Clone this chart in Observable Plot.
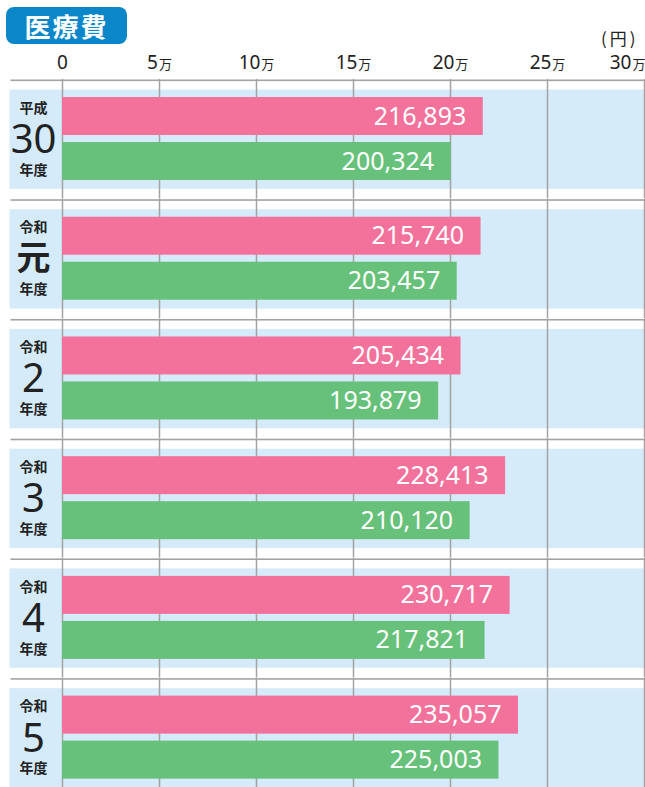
<!DOCTYPE html>
<html><head><meta charset="utf-8">
<script src="https://cdn.jsdelivr.net/npm/d3@7"></script>
<script src="https://cdn.jsdelivr.net/npm/@observablehq/plot@0.6"></script>
<style>
body{margin:0;background:#fff;font-family:"Noto Sans","Noto Sans CJK JP",sans-serif;}
#wrap{position:relative;width:645px;height:787px;overflow:hidden;}
#chart{position:absolute;left:0;top:0;}
#title{position:absolute;left:6px;top:7px;width:121px;height:37px;background:#0b87c9;border-radius:8px;color:#fff;font-family:"Noto Sans CJK JP",sans-serif;font-weight:700;font-size:26px;line-height:37px;text-align:center;letter-spacing:2px;}
#unit{position:absolute;left:601px;top:25px;font-family:"Noto Sans CJK JP",sans-serif;font-size:17px;letter-spacing:3px;color:#222;}
</style></head><body>
<div id="wrap"><div id="chart"></div><div id="title">医療費</div><div id="unit">(円)</div></div>
<script>
// ---- data ----
const eras = ["平成","令和","令和","令和","令和","令和"];
const yearNums = ["30","元","2","3","4","5"];
const pinkValues = [216893,215740,205434,228413,230717,235057];
const greenValues = [200324,203457,193879,210120,217821,225003];
const seriesNames = ["系列1","系列2"];
const xTicks = [0,50000,100000,150000,200000,250000,300000];
const xTickLabels = ["0","5万","10万","15万","20万","25万","30万"];

// ---- build tables ----
const years = eras.map((e,i)=>e+yearNums[i]);
const yearRows = years.map((y,i)=>({year:y, era:eras[i], num:yearNums[i], nen:"年度"}));
const rows = [];
years.forEach((y,i)=>{
  rows.push({year:y, series:seriesNames[0], value:pinkValues[i]});
  rows.push({year:y, series:seriesNames[1], value:greenValues[i]});
});
const labelMap = new Map(xTicks.map((t,i)=>[t,xTickLabels[i]]));
const innerTicks = xTicks.slice(0,-1);
const lastTick = xTicks.slice(-1);

const W=645,H=787,MT=89,MB=0,ML=62,MR=1;
const FY_PAD=0.17;
const bw = d3.scaleBand().domain(years).range([MT,H-MB]).paddingInner(FY_PAD).paddingOuter(0).bandwidth();
const GRAY="#a3a3a3";
const FONT='"Noto Sans","Noto Sans CJK JP",sans-serif';
const CJK='"Noto Sans CJK JP",sans-serif';

const plot = Plot.plot({
  width:W, height:H, marginTop:MT, marginBottom:MB, marginLeft:ML, marginRight:MR,
  style:{fontFamily:FONT, background:"transparent", color:"#222"},
  x:{domain:[0,300000], axis:null},
  y:{domain:seriesNames, axis:null, paddingInner:0.156, paddingOuter:0.178},
  fy:{domain:years, axis:null, paddingInner:FY_PAD, paddingOuter:0, round:false},
  color:{domain:seriesNames, range:["#f2729c","#67c17a"]},
  marks:[
    Plot.frame({fill:"#d5ebf9", stroke:null, insetLeft:-53}),
    Plot.frame({fill:GRAY, stroke:null, insetLeft:-52, insetTop:-10, insetBottom:bw+10-1.6}),
    Plot.ruleX(xTicks, {stroke:GRAY, strokeWidth:1.5, insetTop:-10, insetBottom:-10}),
    Plot.barX(rows, {x:"value", y:"series", fy:"year", fill:"series"}),
    Plot.text(rows, {x:"value", y:"series", fy:"year", text:d=>d3.format(",")(d.value), textAnchor:"end", dx:-17, fill:"white", fontSize:25}),
    Plot.text(yearRows, {fy:"year", frameAnchor:"left", textAnchor:"middle", text:"era", dx:-29, dy:-31, fontSize:14, fontWeight:"bold", fontFamily:CJK}),
    Plot.text(yearRows, {filter:d=>d.num!=="元", fy:"year", frameAnchor:"left", textAnchor:"middle", text:"num", dx:-29, dy:1, fontSize:40}),
    Plot.text(yearRows, {filter:d=>d.num==="元", fy:"year", frameAnchor:"left", textAnchor:"middle", text:"num", dx:-29, dy:0, fontSize:34, fontWeight:"bold", fontFamily:CJK}),
    Plot.text(yearRows, {fy:"year", frameAnchor:"left", textAnchor:"middle", text:"nen", dx:-29, dy:31, fontSize:14, fontWeight:"bold", fontFamily:CJK}),
    Plot.axisX(innerTicks, {anchor:"top", label:null, tickSize:0, tickPadding:21, tickFormat:d=>labelMap.get(d), fontSize:19, fill:"#222"}),
    Plot.axisX(lastTick, {anchor:"top", label:null, tickSize:0, tickPadding:21, tickFormat:d=>labelMap.get(d), fontSize:19, fill:"#222", textAnchor:"end", dx:1})
  ]
});
document.getElementById("chart").appendChild(plot);

// smaller "万" unit inside tick labels
plot.querySelectorAll('g[aria-label="x-axis tick label"] text').forEach(t=>{
  const s=t.textContent;
  if(s.endsWith("万")){
    t.textContent=s.slice(0,-1);
    const ts=document.createElementNS("http://www.w3.org/2000/svg","tspan");
    ts.textContent="万"; ts.setAttribute("font-size","13"); ts.setAttribute("dx","1");
    ts.setAttribute("font-family",CJK);
    t.appendChild(ts);
  }
});
</script>
</body></html>
